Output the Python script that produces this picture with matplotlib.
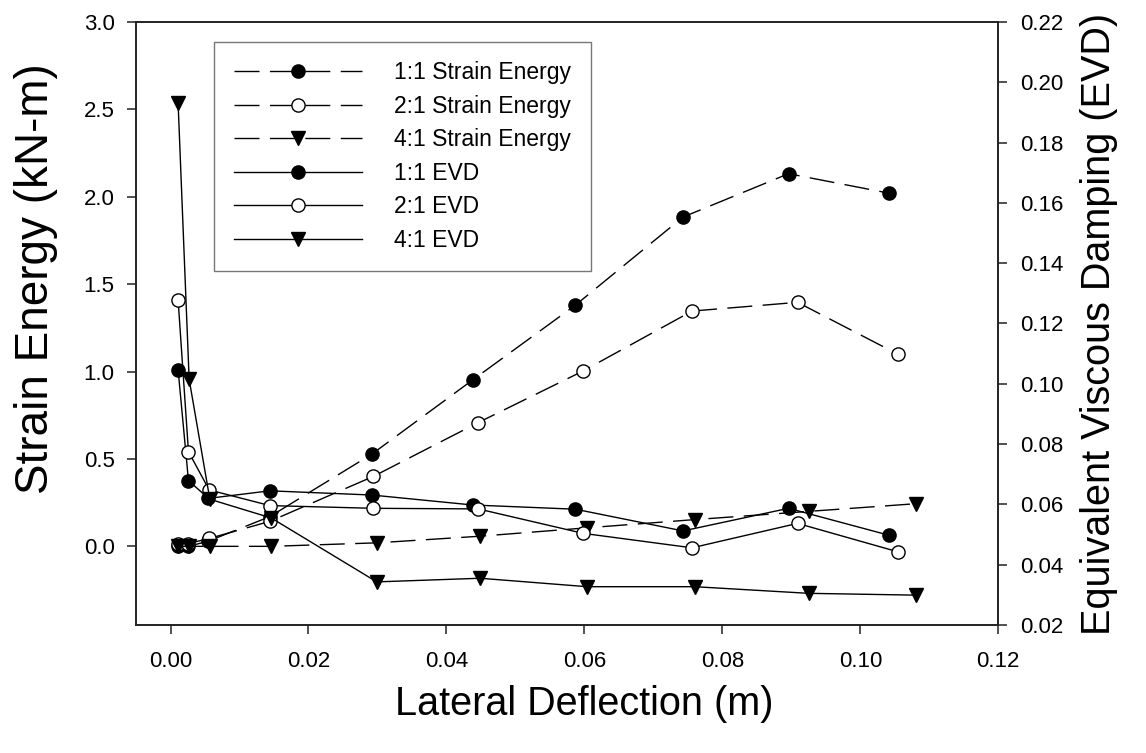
import matplotlib
matplotlib.use("Agg")
import matplotlib.pyplot as plt
from matplotlib.ticker import FormatStrFormatter, MultipleLocator

plt.rcParams['font.family'] = ['Liberation Sans', 'DejaVu Sans']

# ---- data ----
x_11 = [0.0011, 0.0026, 0.0055, 0.0144, 0.0292, 0.0438, 0.0587, 0.0743, 0.0896, 0.1041]
x_21 = [0.0011, 0.0026, 0.0056, 0.0144, 0.0294, 0.0446, 0.0598, 0.0756, 0.0909, 0.1054]
x_41 = [0.0011, 0.0027, 0.0057, 0.0146, 0.0299, 0.0449, 0.0604, 0.0760, 0.0925, 0.1081]

se_11 = [0.00, 0.00, 0.03, 0.17, 0.528, 0.952, 1.380, 1.884, 2.132, 2.021]
se_21 = [0.016, 0.016, 0.045, 0.143, 0.400, 0.708, 1.003, 1.346, 1.396, 1.100]
se_41 = [0.00, 0.00, 0.00, 0.00, 0.02, 0.058, 0.106, 0.153, 0.200, 0.244]

evd_11 = [0.1046, 0.0679, 0.0620, 0.0645, 0.0631, 0.0598, 0.0584, 0.0512, 0.0587, 0.0498]
evd_21 = [0.1278, 0.0775, 0.0648, 0.0596, 0.0587, 0.0585, 0.0504, 0.0456, 0.0537, 0.0443]
evd_41 = [0.1930, 0.1015, 0.0617, 0.0555, 0.0343, 0.0355, 0.0327, 0.0327, 0.0305, 0.0299]

labels = ["1:1 Strain Energy", "2:1 Strain Energy", "4:1 Strain Energy",
          "1:1 EVD", "2:1 EVD", "4:1 EVD"]

fig = plt.figure(figsize=(11.46, 7.53), dpi=100)
ax = fig.add_axes([0.1187, 0.170, 0.8711 - 0.1187, 0.9708 - 0.170])
ax2 = ax.twinx()

ms = 9.5
dash = (0, (18, 7.5))
common = dict(color='black', lw=1.0, markersize=ms, markeredgecolor='black', markeredgewidth=1.0)

h = []
h += ax.plot(x_11, se_11, linestyle=dash, marker='o', markerfacecolor='black', **common)
h += ax.plot(x_21, se_21, linestyle=dash, marker='o', markerfacecolor='white', **common)
h += ax.plot(x_41, se_41, linestyle=dash, marker='v', markerfacecolor='black', **common)
h += ax2.plot(x_11, evd_11, linestyle='-', marker='o', markerfacecolor='black', **common)
h += ax2.plot(x_21, evd_21, linestyle='-', marker='o', markerfacecolor='white', **common)
h += ax2.plot(x_41, evd_41, linestyle='-', marker='v', markerfacecolor='black', **common)

ax.set_xlim(-0.005, 0.12)
ax.set_ylim(-0.45, 3.0)
ax2.set_ylim(0.02, 0.22)

ax.xaxis.set_major_locator(MultipleLocator(0.02))
ax.xaxis.set_major_formatter(FormatStrFormatter('%.2f'))
ax.set_yticks([0.0, 0.5, 1.0, 1.5, 2.0, 2.5, 3.0])
ax.yaxis.set_major_formatter(FormatStrFormatter('%.1f'))
ax2.set_yticks([0.02 * i for i in range(1, 12)])
ax2.yaxis.set_major_formatter(FormatStrFormatter('%.2f'))

for a in (ax, ax2):
    for s in a.spines.values():
        s.set_linewidth(1.2)
        s.set_color('#222222')
ax.tick_params(axis='both', direction='out', length=6.5, width=1.1, labelsize=16, pad=9, color='#222222')
ax.tick_params(axis='x', pad=12)
ax2.tick_params(axis='y', direction='out', length=6.5, width=1.1, labelsize=16, pad=9, color='#222222')

ax.set_xlabel("Lateral Deflection (m)", fontsize=28.5)
ax.xaxis.set_label_coords(0.52, -0.10)
ax.set_ylabel("Strain Energy (kN-m)", fontsize=33)
ax.yaxis.set_label_coords(-0.091, 0.575)
ax2.set_ylabel("Equivalent Viscous Damping (EVD)", fontsize=28.5)
ax2.yaxis.set_label_coords(1.095, 0.50)

leg = ax2.legend(h, labels, loc='upper left', bbox_to_anchor=(214.3 / 1146, 1 - 41.7 / 753),
                 bbox_transform=fig.transFigure, fontsize=16.5, frameon=True, fancybox=False,
                 handlelength=5.6, handletextpad=1.4, borderpad=0.85, labelspacing=0.46,
                 borderaxespad=0)
leg.get_frame().set_edgecolor('#555555')
leg.get_frame().set_linewidth(1.0)
leg.set_zorder(10)

fig.savefig("out.png", dpi=100)
